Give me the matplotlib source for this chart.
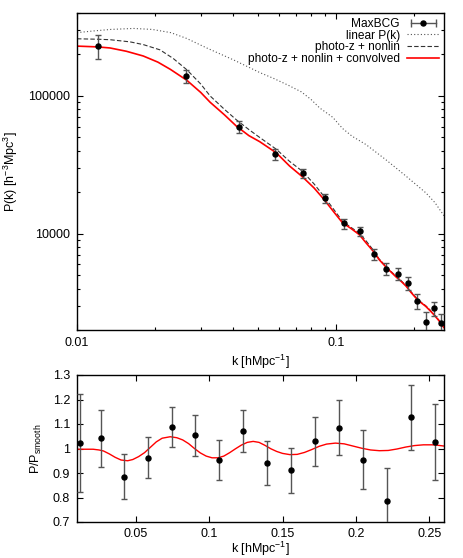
import numpy as np
import matplotlib
matplotlib.use('Agg')
import matplotlib.pyplot as plt
from matplotlib.lines import Line2D
from matplotlib.legend_handler import HandlerLine2D, HandlerTuple
from matplotlib.ticker import FixedLocator, FuncFormatter, NullFormatter, LogLocator

plt.rcParams['font.family'] = ['Liberation Sans', 'DejaVu Sans']
plt.rcParams['mathtext.fontset'] = 'custom'
plt.rcParams['mathtext.rm'] = 'Liberation Sans'
plt.rcParams['mathtext.default'] = 'regular'
plt.rcParams['font.size'] = 9

# MaxBCG band powers
k_data = [0.0120, 0.0263, 0.0420, 0.0581, 0.0744, 0.0907, 0.1066, 0.1231,
          0.1395, 0.1558, 0.1721, 0.1884, 0.2048, 0.2211, 0.2374, 0.2537]
pk_data = [230000, 140000, 60000, 37800, 27400, 18150, 11870, 10390,
           7125, 5550, 5105, 4365, 3253, 2303, 2876, 2265]
pk_err = [45000, 15500, 6300, 3250, 2070, 1430, 1010, 825,
          680, 560, 495, 450, 410, 396, 339, 342]

# ratio to smooth spectrum
ratio = [1.022, 1.041, 0.885, 0.963, 1.088, 1.054, 0.9525, 1.071,
         0.942, 0.912, 1.030, 1.084, 0.954, 0.784, 1.128, 1.027]
ratio_err = [0.200, 0.115, 0.093, 0.083, 0.082, 0.083, 0.081, 0.085,
             0.090, 0.092, 0.100, 0.112, 0.120, 0.135, 0.133, 0.155]

# linear P(k)
k_lin = [0.0100, 0.0115, 0.0135, 0.0165, 0.0195, 0.0230, 0.0264, 0.0318,
         0.0403, 0.0506, 0.0573, 0.0650, 0.0733, 0.0800, 0.0861, 0.0968,
         0.1057, 0.1150, 0.1300, 0.1550, 0.1855, 0.2213, 0.2400, 0.2600]
pk_lin = [288000, 296000, 304000, 309000, 304000, 288000, 262000, 222000,
          182000, 148000, 134000, 120000, 107000, 94000, 82000, 70000,
          58000, 51000, 44400, 34500, 26200, 19800, 16800, 13500]

# photo-z + nonlin
k_nl = [0.0100, 0.0120, 0.0134, 0.0160, 0.0180, 0.0209, 0.0235, 0.0265,
        0.0300, 0.0326, 0.0370, 0.0412, 0.0460, 0.0506, 0.0587, 0.0660,
        0.0738, 0.0820, 0.0899, 0.0980, 0.1056, 0.1140, 0.1226, 0.1300,
        0.1388, 0.1460, 0.1544, 0.1620, 0.1700, 0.1780, 0.1860, 0.1940,
        0.2025, 0.2110, 0.2211, 0.2290, 0.2374, 0.2480, 0.2600]
pk_nl = [260000, 258000, 256000, 247000, 236000, 216000, 187000, 155000,
         122000, 100000, 80000, 67000, 57000, 50000, 41000, 33500,
         28500, 23000, 18500, 14900, 12300, 11100, 10100, 8900,
         7600, 6580, 5860, 5350, 4900, 4540, 4190, 3790,
         3450, 3210, 3000, 2810, 2610, 2370, 2100]

# photo-z + nonlin + convolved
k_conv = [0.0100, 0.0120, 0.0134, 0.0155, 0.0180, 0.0205, 0.0229, 0.0265,
          0.0300, 0.0326, 0.0370, 0.0412, 0.0460, 0.0506, 0.0587, 0.0660,
          0.0738, 0.0820, 0.0899, 0.0980, 0.1056, 0.1140, 0.1226, 0.1300,
          0.1388, 0.1460, 0.1544, 0.1620, 0.1700, 0.1780, 0.1860, 0.1940,
          0.2025, 0.2110, 0.2211, 0.2290, 0.2374, 0.2480, 0.2600]
pk_conv = [230000, 227000, 223000, 211000, 195000, 176000, 156000, 130000,
           106000, 90000, 73000, 60300, 51500, 46600, 38600, 31000,
           26000, 21500, 17600, 14300, 12000, 10900, 9840, 8600,
           7450, 6500, 5800, 5300, 4850, 4500, 4150, 3750,
           3420, 3180, 2970, 2780, 2590, 2350, 2080]

# smooth-divided model
k_wig = [0.010, 0.016, 0.021, 0.025, 0.028, 0.032, 0.036, 0.040, 0.0445,
         0.048, 0.052, 0.056, 0.060, 0.064, 0.068, 0.0735, 0.078, 0.082,
         0.086, 0.090, 0.094, 0.098, 0.102, 0.106, 0.110, 0.114, 0.118,
         0.122, 0.126, 0.130, 0.134, 0.138, 0.142, 0.146, 0.150, 0.155,
         0.160, 0.165, 0.170, 0.175, 0.180, 0.186, 0.192, 0.198, 0.204,
         0.210, 0.216, 0.222, 0.228, 0.234, 0.240, 0.246, 0.252, 0.256, 0.260]
wig = [0.997, 0.997, 0.997, 0.994, 0.990, 0.978, 0.964, 0.953, 0.950,
       0.955, 0.967, 0.983, 1.005, 1.027, 1.042, 1.048, 1.044, 1.035,
       1.020, 1.000, 0.982, 0.969, 0.962, 0.962, 0.969, 0.983, 0.999,
       1.014, 1.025, 1.029, 1.025, 1.013, 0.999, 0.988, 0.980, 0.975,
       0.976, 0.984, 0.996, 1.009, 1.018, 1.022, 1.019, 1.010, 1.001,
       0.994, 0.991, 0.992, 0.998, 1.006, 1.012, 1.015, 1.015, 1.013, 1.010]

W, H = 463, 558
fig = plt.figure(figsize=(W / 100, H / 100), dpi=100)
ax1 = fig.add_axes([77 / W, 1 - 330 / H, 367 / W, 317 / H])
ax2 = fig.add_axes([77 / W, 1 - 522 / H, 367 / W, 147 / H])

errcol = '#555555'

# top panel
ax1.errorbar(k_data, pk_data, yerr=pk_err, fmt='none', ecolor=errcol,
             elinewidth=1, capsize=2.2, capthick=1, zorder=3)
ax1.plot(k_data, pk_data, 'o', color='black', ms=3.6, zorder=4)
l_lin, = ax1.plot(k_lin, pk_lin, color='#555555', lw=0.8, ls=(0, (1, 2)))
l_nl, = ax1.plot(k_nl, pk_nl, color='#333333', lw=0.8, ls=(0, (4, 2)))
l_conv, = ax1.plot(k_conv, pk_conv, color='red', lw=1.2)

ax1.set_xscale('log')
ax1.set_yscale('log')
ax1.set_xlim(0.01, 0.26)
ax1.set_ylim(2000, 400000)
ax1.xaxis.set_major_locator(FixedLocator([0.01, 0.1]))
ax1.xaxis.set_major_formatter(FuncFormatter(lambda v, p: '%g' % v))
ax1.xaxis.set_minor_locator(LogLocator(base=10, subs=np.arange(2, 10)))
ax1.xaxis.set_minor_formatter(NullFormatter())
ax1.yaxis.set_major_locator(FixedLocator([10000, 100000]))
ax1.yaxis.set_major_formatter(FuncFormatter(lambda v, p: '%d' % v))
ax1.yaxis.set_minor_locator(LogLocator(base=10, subs=np.arange(2, 10)))
ax1.yaxis.set_minor_formatter(NullFormatter())
ax1.set_xlabel('k [hMpc$^{-1}$]', labelpad=3)
ax1.set_ylabel('P(k) [h$^{-3}$Mpc$^{3}$]', labelpad=6)

cap_line = Line2D([], [], color=errcol, lw=1, marker='|', ms=6, mew=1)
dot = Line2D([], [], color='black', marker='o', ms=3.6, ls='none')
ax1.legend([(cap_line, dot), l_lin, l_nl, l_conv],
           ['MaxBCG', 'linear P(k)', 'photo-z + nonlin',
            'photo-z + nonlin + convolved'],
           handler_map={cap_line: HandlerLine2D(numpoints=2),
                        tuple: HandlerTuple(ndivide=1)},
           loc='upper right', markerfirst=False, frameon=False,
           handlelength=2.7, handletextpad=0.6, labelspacing=-0.02,
           borderaxespad=0.1, borderpad=0.3, fontsize=8.6)

# bottom panel
ax2.errorbar(k_data, ratio, yerr=ratio_err, fmt='none', ecolor=errcol,
             elinewidth=1, capsize=2.2, capthick=1, zorder=3)
ax2.plot(k_data, ratio, 'o', color='black', ms=3.6, zorder=4)
ax2.plot(k_wig, wig, color='red', lw=1.0)
ax2.set_xlim(0.01, 0.26)
ax2.set_ylim(0.7, 1.3)
ax2.set_xticks([0.05, 0.1, 0.15, 0.2, 0.25])
ax2.set_yticks([0.7, 0.8, 0.9, 1.0, 1.1, 1.2, 1.3])
ax2.xaxis.set_major_formatter(FuncFormatter(lambda v, p: '%g' % round(v, 3)))
ax2.yaxis.set_major_formatter(FuncFormatter(lambda v, p: '%g' % round(v, 3)))
ax2.set_xlabel('k [hMpc$^{-1}$]', labelpad=0)
ax2.set_ylabel('P/P$_{smooth}$', labelpad=6)

for ax in (ax1, ax2):
    ax.tick_params(which='both', direction='in', top=True, right=True,
                   labelsize=9, pad=5)
    ax.tick_params(which='major', length=4, width=0.8)
    ax.tick_params(which='minor', length=2.5, width=0.8)
    for s in ax.spines.values():
        s.set_linewidth(1)
ax2.tick_params(axis='x', pad=4)

fig.savefig('out.png', dpi=100)
